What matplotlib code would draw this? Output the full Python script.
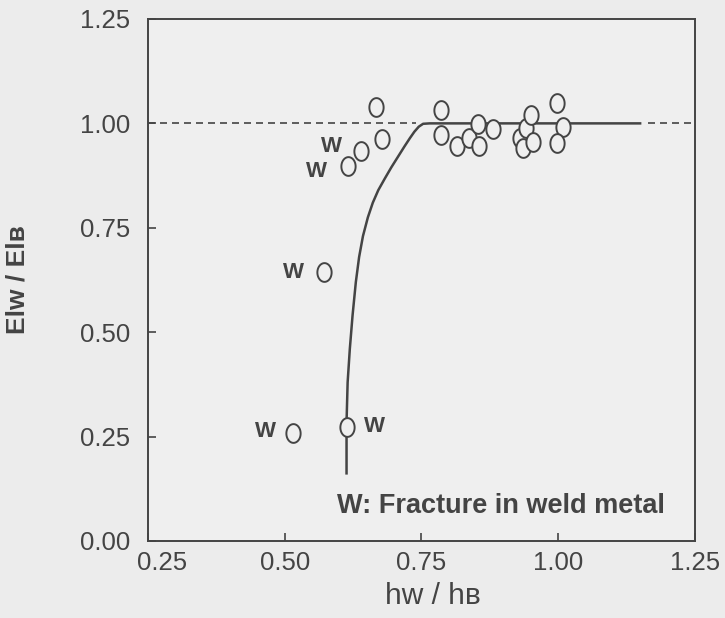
import numpy as np
import matplotlib
matplotlib.use("Agg")
import matplotlib.pyplot as plt
from matplotlib.path import Path
from matplotlib.transforms import ScaledTranslation

# measured points: thickness ratio hw/hB vs elongation ratio ElW/ElB
x_pts = [0.667, 0.678, 0.785, 0.785, 0.815, 0.836, 0.854, 0.856, 0.880,
         0.931, 0.936, 0.941, 0.951, 0.954, 0.997, 1.009, 0.997]
y_pts = [1.040, 0.962, 1.032, 0.972, 0.946, 0.966, 0.998, 0.946, 0.986,
         0.964, 0.942, 0.990, 1.019, 0.956, 1.048, 0.992, 0.954]

# points that fractured in the weld metal, with the side the "W" sits on
x_weld = [0.516, 0.613, 0.571, 0.616, 0.639]
y_weld = [0.259, 0.273, 0.644, 0.897, 0.934]
w_side = [(-20, 1), (20, 0), (-22, 0), (-23, -4), (-21, 3.5)]

# trend curve
x_curve = [0.613, 0.613, 0.615, 0.619, 0.624, 0.630, 0.636, 0.643, 0.652,
           0.661, 0.671, 0.683, 0.695, 0.707, 0.719, 0.729, 0.737, 0.745,
           0.753, 0.765, 1.152]
y_curve = [0.159, 0.284, 0.380, 0.460, 0.540, 0.620, 0.680, 0.730, 0.775,
           0.810, 0.840, 0.868, 0.895, 0.920, 0.945, 0.965, 0.980, 0.992,
           0.999, 1.000, 1.000]

ink = "#444444"
bg = "#ececec"
fonts = ["Liberation Sans", "DejaVu Sans"]
plt.rcParams["font.family"] = fonts

# tall open "O" marker
t = np.linspace(0, 2 * np.pi, 64)
oval = Path(np.column_stack([0.76 * np.cos(t), np.sin(t)]), closed=True)

fig = plt.figure(figsize=(7.25, 6.18), dpi=100, facecolor=bg)
ax = fig.add_axes([0.2041, 0.1246, 0.7545, 0.8447], facecolor="#efefef")

# reference level at 1.00
ax.plot([0.25, 0.74], [1.0, 1.0], color=ink, lw=1.2, ls=(0, (4.2, 3.0)))
ax.plot([1.165, 1.25], [1.0, 1.0], color=ink, lw=1.2, ls=(0, (4.2, 3.0)))
ax.plot(x_curve, y_curve, color=ink, lw=1.8, solid_capstyle="butt",
        solid_joinstyle="round")

mk = dict(marker=oval, ms=13.5, mfc="#efefef", mec=ink, mew=1.4, ls="none")
ax.plot(x_pts, y_pts, **mk)
ax.plot(x_weld, y_weld, **mk)
for xw, yw, off in zip(x_weld, y_weld, w_side):
    ax.annotate("W", (xw, yw), xytext=off, textcoords="offset points",
                ha="center", va="center", fontsize=16, fontweight="bold",
                color=ink)

ax.text(0.3455, 0.067, "W: Fracture in weld metal", transform=ax.transAxes,
        ha="left", va="center", fontsize=19.5, fontweight="bold", color=ink)

ax.set_xlim(0.25, 1.25)
ax.set_ylim(0.0, 1.25)
ax.set_xticks([0.25, 0.50, 0.75, 1.00, 1.25])
ax.set_yticks([0.00, 0.25, 0.50, 0.75, 1.00, 1.25])
ax.set_xticklabels(["0.25", "0.50", "0.75", "1.00", "1.25"])
ax.set_yticklabels(["0.00", "0.25", "0.50", "0.75", "1.00", "1.25"])
ax.tick_params(direction="in", length=6, width=1.2, colors=ink,
               labelsize=18.5, labelcolor=ink)
ax.tick_params(axis="y", pad=13)
ax.tick_params(axis="x", pad=7)
for s in ax.spines.values():
    s.set_color(ink)
    s.set_linewidth(1.4)

# nudge the first x label clear of the 0.00 label
lbl = ax.get_xticklabels()[0]
lbl.set_transform(lbl.get_transform() + ScaledTranslation(0.14, 0, fig.dpi_scale_trans))

ax.set_ylabel("El\u1d21 / El\u0299", fontsize=19, fontweight="bold", color=ink)
ax.yaxis.set_label_coords(-0.216, 0.5)
ax.set_xlabel("h\u1d21 / h\u0299", fontsize=21.5, color=ink)
ax.xaxis.set_label_coords(0.521, -0.0785)

fig.savefig("out.png", dpi=100, facecolor=bg)
